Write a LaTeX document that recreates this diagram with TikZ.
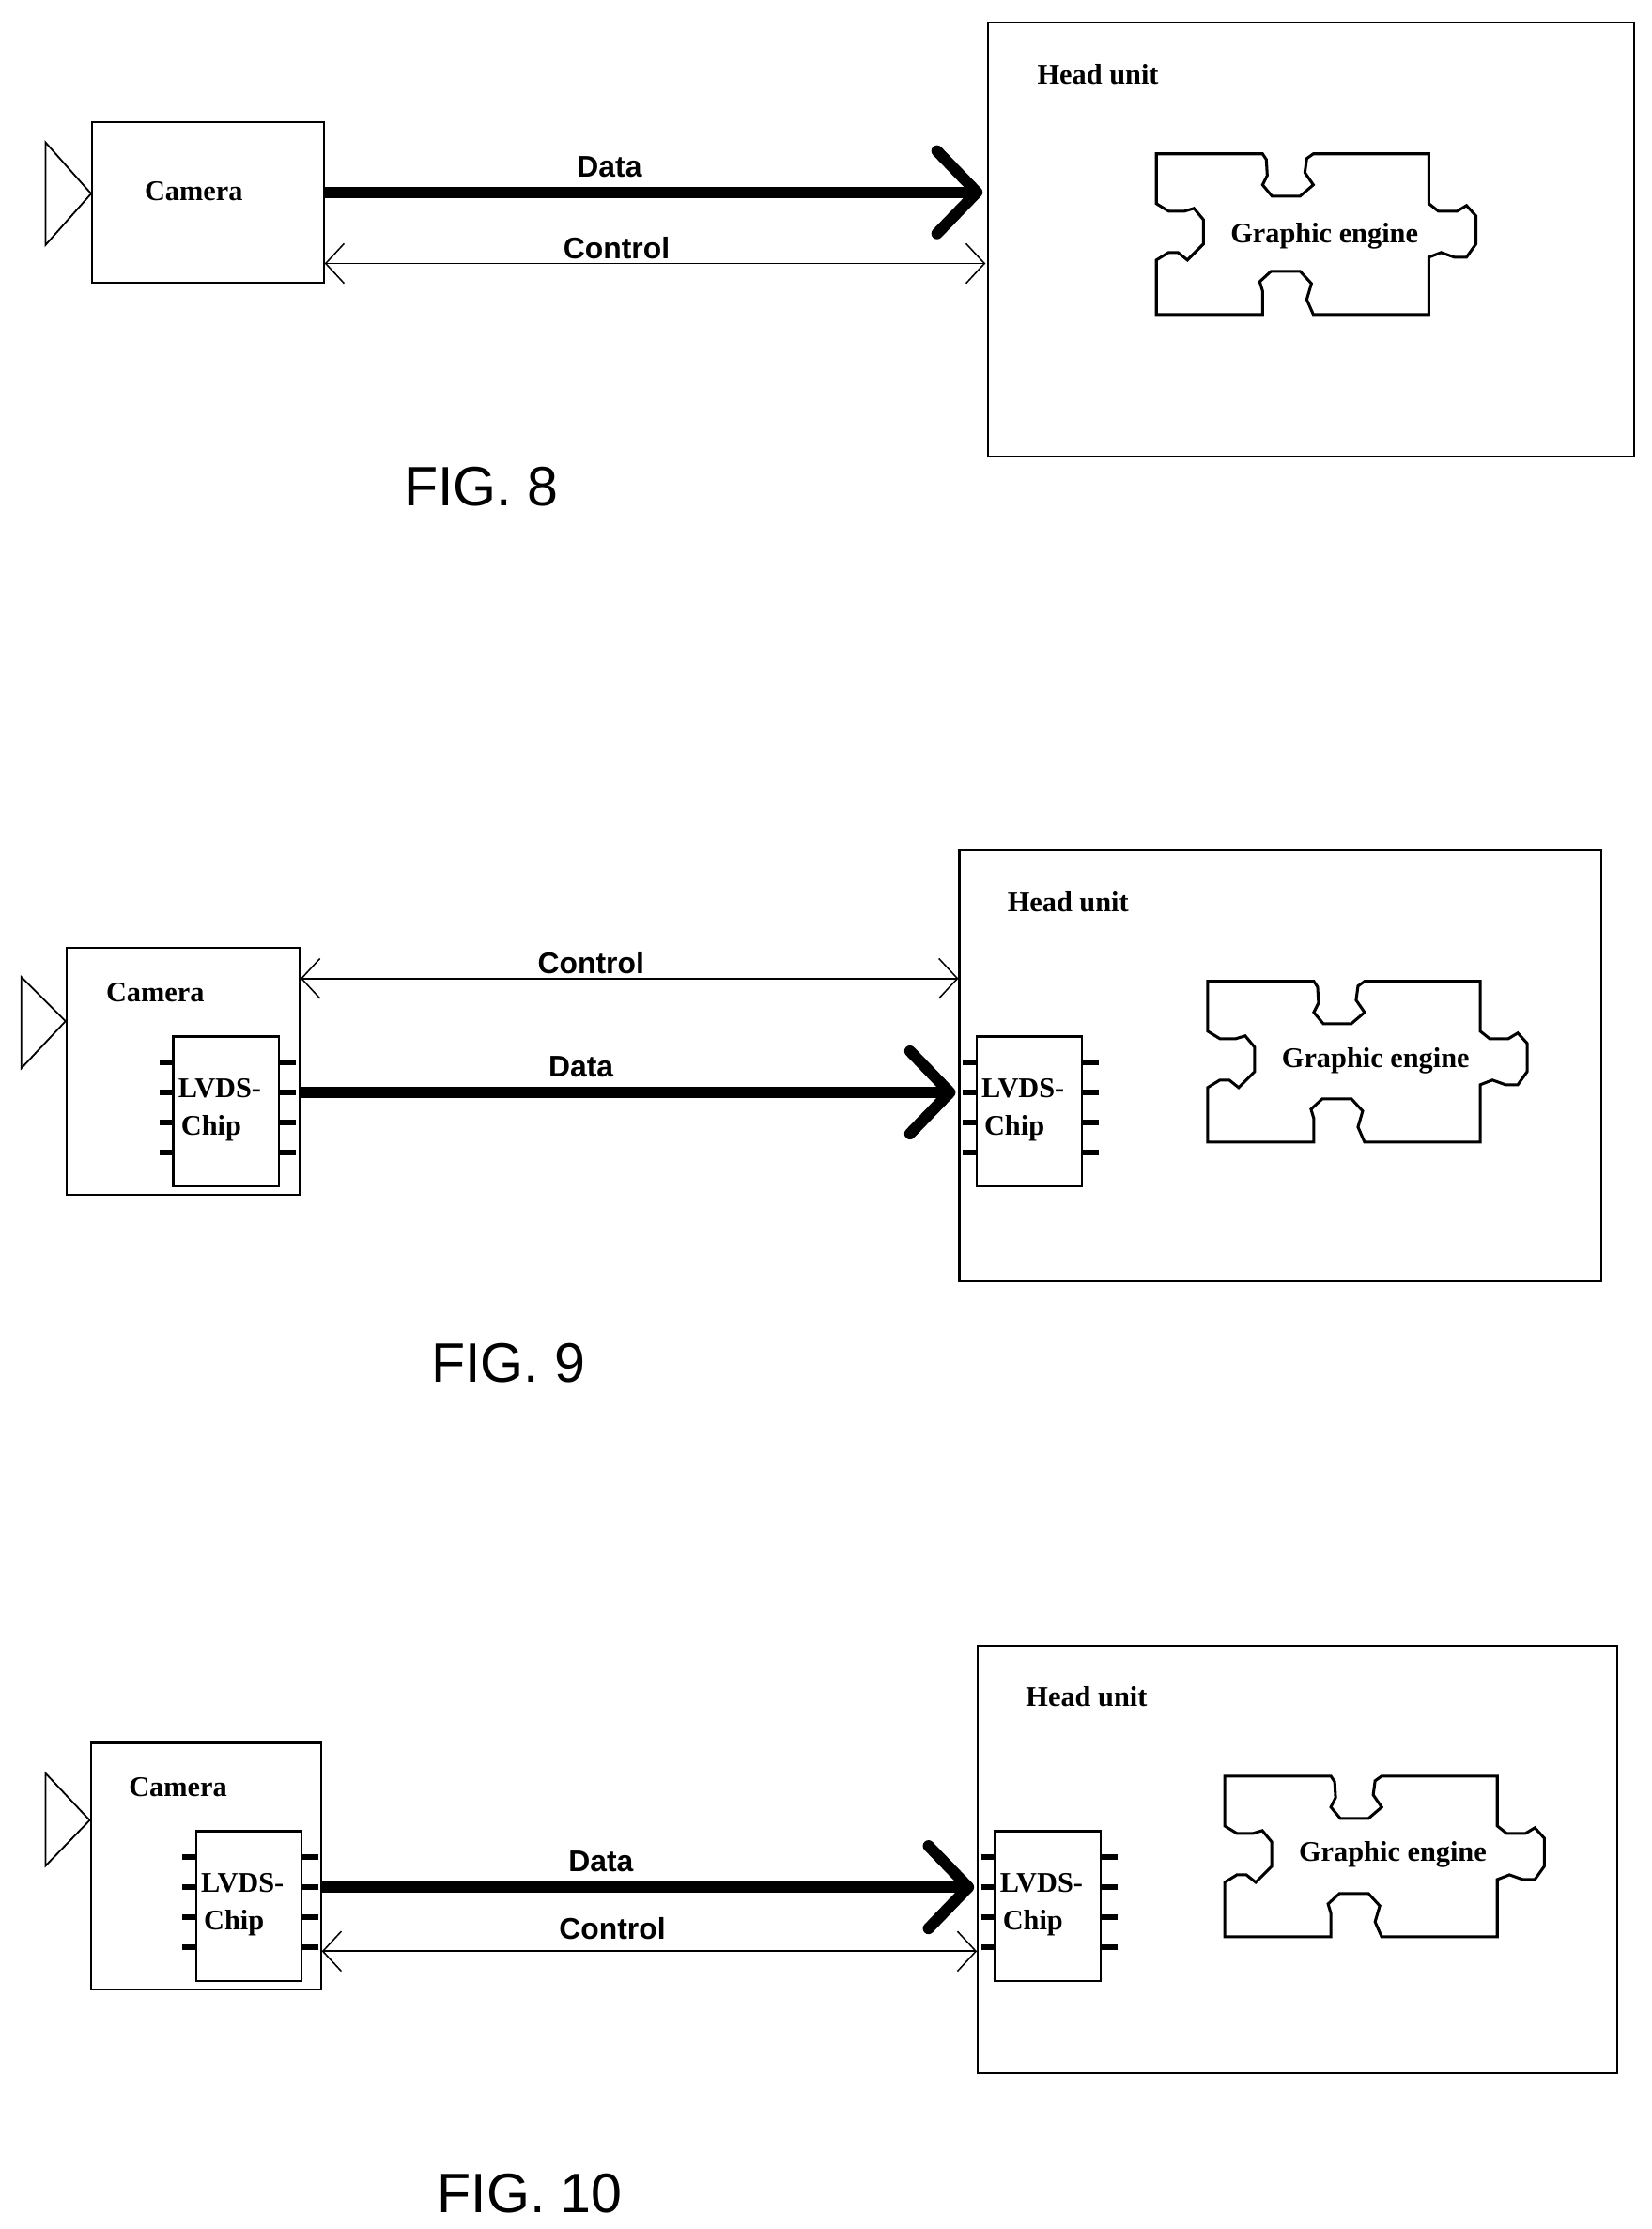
\documentclass[tikz,border=0pt]{standalone}
\usepackage{fontspec}
\setmainfont{Liberation Serif}
\newfontfamily\arialf{Liberation Sans}
\usetikzlibrary{arrows.meta}
\tikzset{
 box/.style={draw,line width=1.4pt,anchor=north west,inner sep=0pt},
 lbl/.style={font=\bfseries\fontsize{20}{20}\selectfont,inner sep=0pt},
 wlbl/.style={font=\arialf\bfseries\fontsize{21}{21}\selectfont,inner sep=0pt},
 figl/.style={font=\arialf\fontsize{39}{39}\selectfont,inner sep=0pt},
 data/.style={line width=8pt,-{Straight Barb[length=28pt,width=58pt,line width=8pt,round]}},
 ctrl/.style={line width=1.2pt,{Straight Barb[length=13pt,width=28pt,line width=1pt]}-{Straight Barb[length=13pt,width=28pt,line width=1pt]}},
 pin/.style={line width=4pt},
 lens/.style={line width=1.2pt}
}
\newcommand\mypuzzle[3]{% name, x, y (top-left)
 \begin{scope}[shift={(#2,#3)},scale=0.66]
 \draw[line width=2pt] (0,0) -- (113,0) -- (117,6) -- (118,23) -- (113,33) -- (123,45) -- (153,45) -- (167,33) -- (158,20) -- (160,5) -- (167,0) -- (290,0) -- (290,53) -- (300,61) -- (320,61) -- (330,55) -- (340,66) -- (340,96) -- (330,110) -- (317,110) -- (303,105) -- (290,110) -- (290,171) -- (167,171) -- (160,155) -- (165,138) -- (153,125) -- (122,125) -- (110,136) -- (113,146) -- (113,171) -- (0,171) -- (0,113) -- (13,105) -- (23,105) -- (33,113) -- (50,96) -- (50,70) -- (40,58) -- (30,61) -- (13,61) -- (0,53) -- cycle;
 \coordinate (#1) at (170,85);
 \end{scope}}
\newcommand\mychip[3]{% name, x, y (top-left), size 74x105
 \node[box,line width=1.6pt,minimum width=74pt,minimum height=105pt] (#1) at (#2,#3) {};
 \foreach \dy in {19,40,61,82}{
  \draw[pin] ([xshift=-9pt,yshift=-\dy pt]#1.north west) -- ([yshift=-\dy pt]#1.north west);
  \draw[pin] ([yshift=-\dy pt]#1.north east) -- ([xshift=11pt,yshift=-\dy pt]#1.north east);}
 \node[lbl,anchor=west] (#1-t1) at ([xshift=4pt,yshift=-37pt]#1.north west) {LVDS-};
 \node[lbl,anchor=west] (#1-t2) at ([xshift=6pt,yshift=-65pt]#1.north west) {Chip};}
\begin{document}
\begin{tikzpicture}[x=1pt,y=-1pt]
\useasboundingbox (0,0) rectangle (1160,1565);
% ---------- FIG 8
\node[box,minimum width=163pt,minimum height=113pt] (cam8) at (64,85) {};
\draw[lens] (32,100) -- (64,136) -- (32,172) -- cycle;
\node[lbl] (cam8t) at (136,134) {Camera};
\node[box,minimum width=454pt,minimum height=305pt] (hu8) at (693,15) {};
\node[lbl] (hu8t) at (771,52) {Head unit};
\mypuzzle{pz8}{812}{108}
\node[lbl] (pz8t) at (930,166) {Graphic engine};
\coordinate (d8a) at (227,135); \coordinate (d8b) at (690,135);
\draw[data] (d8a) -- (d8b);
\node[wlbl] (d8l) at (428,117) {Data};
\coordinate (c8a) at (228,185); \coordinate (c8b) at (692,185);
\draw[ctrl] (c8a) -- (c8b);
\node[wlbl] (c8l) at (433,174) {Control};
\node[figl] (f8) at (338,342) {FIG. 8};
% ---------- FIG 9
\node[box,minimum width=164pt,minimum height=173pt] (cam9) at (46,665) {};
\draw[lens] (15,686) -- (46,717) -- (15,750) -- cycle;
\node[lbl] (cam9t) at (109,697) {Camera};
\mychip{chip9a}{121}{727}
\node[box,minimum width=451pt,minimum height=303pt] (hu9) at (673,596) {};
\node[lbl] (hu9t) at (750,633) {Head unit};
\mychip{chip9b}{685}{727}
\mypuzzle{pz9}{848}{689}
\node[lbl] (pz9t) at (966,745) {Graphic engine};
\coordinate (c9a) at (211,687); \coordinate (c9b) at (673,687);
\draw[ctrl] (c9a) -- (c9b);
\node[wlbl] (c9l) at (415,676) {Control};
\coordinate (d9a) at (210,767); \coordinate (d9b) at (671,767);
\draw[data] (d9a) -- (d9b);
\node[wlbl] (d9l) at (408,749) {Data};
\node[figl] (f9) at (357,957) {FIG. 9};
% ---------- FIG 10
\node[box,minimum width=162pt,minimum height=173pt] (cam10) at (63,1223) {};
\draw[lens] (32,1245) -- (63,1278) -- (32,1310) -- cycle;
\node[lbl] (cam10t) at (125,1255) {Camera};
\mychip{chip10a}{137}{1285}
\node[box,minimum width=449pt,minimum height=300pt] (hu10) at (686,1155) {};
\node[lbl] (hu10t) at (763,1191) {Head unit};
\mychip{chip10b}{698}{1285}
\mypuzzle{pz10}{860}{1247}
\node[lbl] (pz10t) at (978,1302) {Graphic engine};
\coordinate (d10a) at (225,1325); \coordinate (d10b) at (684,1325);
\draw[data] (d10a) -- (d10b);
\node[wlbl] (d10l) at (422,1307) {Data};
\coordinate (c10a) at (226,1370); \coordinate (c10b) at (686,1370);
\draw[ctrl] (c10a) -- (c10b);
\node[wlbl] (c10l) at (430,1354) {Control};
\node[figl] (f10) at (372,1540) {FIG. 10};
\end{tikzpicture}
\end{document}
